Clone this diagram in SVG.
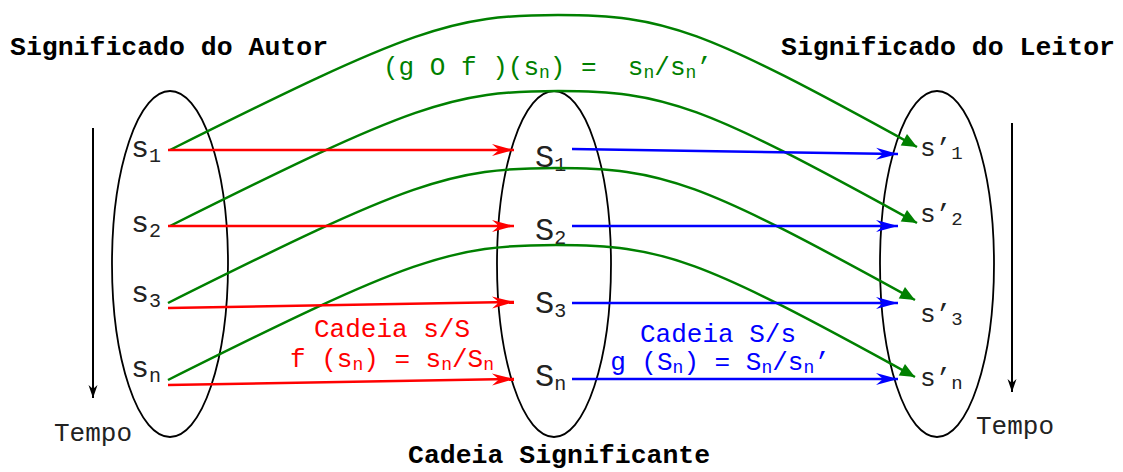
<svg xmlns="http://www.w3.org/2000/svg" width="1123" height="472" viewBox="0 0 1123 472">
<style>
text{font-family:"Liberation Mono","Courier New",monospace;}
.t{font-size:26.5px;font-weight:bold;fill:#000;}
.n{font-size:26px;}
.ell{fill:none;stroke:#000;stroke-width:1.8;}
.g{fill:none;stroke:#008000;stroke-width:2.5;marker-end:url(#ag);}
.r{fill:none;stroke:#ff0000;stroke-width:2.5;marker-end:url(#ar);}
.b{fill:none;stroke:#0000ff;stroke-width:2.5;marker-end:url(#ab);}
.k{fill:none;stroke:#000;stroke-width:2;marker-end:url(#ak);}
.ls{font-size:30px;fill:#222;}
.ms{font-size:32px;fill:#222;}
.rs{font-size:26px;fill:#222;}
</style>
<defs>
<marker id="ag" markerUnits="userSpaceOnUse" viewBox="-16 -8 17 16" markerWidth="17" markerHeight="16" refX="0" refY="0" orient="auto"><path d="M0,0 L-15,-6.5 L-15,6.5 Z" fill="#008000"/></marker>
<marker id="ar" markerUnits="userSpaceOnUse" viewBox="-23 -7 24 14" markerWidth="24" markerHeight="14" refX="0" refY="0" orient="auto"><path d="M0,0 L-22,-6 L-15,0 L-22,6 Z" fill="#ff0000"/></marker>
<marker id="ab" markerUnits="userSpaceOnUse" viewBox="-23 -7 24 14" markerWidth="24" markerHeight="14" refX="0" refY="0" orient="auto"><path d="M0,0 L-22,-6 L-15,0 L-22,6 Z" fill="#0000ff"/></marker>
<marker id="ak" markerUnits="userSpaceOnUse" viewBox="-14 -5 15 10" markerWidth="15" markerHeight="10" refX="0" refY="0" orient="auto"><path d="M0,0 L-13,-4.5 L-9,0 L-13,4.5 Z" fill="#000"/></marker>
</defs>

<g id="autor">
<ellipse class="ell" cx="170" cy="264" rx="58" ry="173"/>
<text class="t" x="10" y="55">Significado do Autor</text>
</g>
<g id="cadeia">
<ellipse class="ell" cx="554" cy="264" rx="57" ry="173"/>
<text class="t" x="408" y="463">Cadeia Significante</text>
</g>
<g id="leitor">
<ellipse class="ell" cx="937" cy="264" rx="57" ry="173"/>
<text class="t" x="781" y="55">Significado do Leitor</text>
</g>

<g id="tempo-autor">
<path class="k" d="M93,128 L93,398"/>
<text class="n" x="54" y="441" fill="#222">Tempo</text>
</g>
<g id="tempo-leitor">
<path class="k" d="M1012,123 L1012,392"/>
<text class="n" x="976" y="434" fill="#222">Tempo</text>
</g>

<g id="s1"><text class="ls" x="131" y="157">s<tspan font-size="20" dy="5">1</tspan></text></g>
<g id="s2"><text class="ls" x="131" y="232">s<tspan font-size="20" dy="5">2</tspan></text></g>
<g id="s3"><text class="ls" x="131" y="302">s<tspan font-size="20" dy="5">3</tspan></text></g>
<g id="sn"><text class="ls" x="131" y="377">s<tspan font-size="20" dy="5">n</tspan></text></g>

<g id="S1"><text class="ms" x="535" y="167">S<tspan font-size="20" dy="4">1</tspan></text></g>
<g id="S2"><text class="ms" x="535" y="240">S<tspan font-size="20" dy="4">2</tspan></text></g>
<g id="S3"><text class="ms" x="535" y="313">S<tspan font-size="20" dy="4">3</tspan></text></g>
<g id="Sn"><text class="ms" x="535" y="386">S<tspan font-size="20" dy="4">n</tspan></text></g>

<g id="sp1"><text class="rs" x="920" y="156">s’<tspan font-size="19" dy="3">1</tspan></text></g>
<g id="sp2"><text class="rs" x="920" y="222">s’<tspan font-size="19" dy="3">2</tspan></text></g>
<g id="sp3"><text class="rs" x="920" y="322">s’<tspan font-size="19" dy="3">3</tspan></text></g>
<g id="spn"><text class="rs" x="920" y="386">s’<tspan font-size="19" dy="3">n</tspan></text></g>

<g id="connectors">
<path class="g" d="M170,150 c243,-121.5 282,-135 388,-135 c107,0 143,13 359,132"/>
<path class="g" d="M170,226 c243,-121.5 282,-135 388,-135 c107,0 143,13 359,132"/>
<path class="g" d="M168,303 c243,-121.5 282,-135 388,-135 c107,0 143,13 359,132"/>
<path class="g" d="M168,380 c243,-121.5 282,-135 388,-135 c107,0 143,13 359,132"/>
<path class="r" d="M168,150 L514,150"/>
<path class="r" d="M168,226 L514,226"/>
<path class="r" d="M168,308 L514,302"/>
<path class="r" d="M168,385 L514,379"/>
<path class="b" d="M572,149 L898,154"/>
<path class="b" d="M572,226 L898,226"/>
<path class="b" d="M572,303 L898,303"/>
<path class="b" d="M572,379 L898,379"/>
</g>

<g id="labels">
<text class="n" x="383" y="75" fill="#008000" xml:space="preserve">(g O f )(s<tspan font-size="18" dy="3">n</tspan><tspan dy="-3">) =  s</tspan><tspan font-size="18" dy="3">n</tspan><tspan dy="-3">/s</tspan><tspan font-size="18" dy="3">n</tspan><tspan dy="-3">’</tspan></text>
<text class="n" x="392" y="337" fill="#ff0000" text-anchor="middle">Cadeia s/S</text>
<text class="n" x="392" y="367" fill="#ff0000" text-anchor="middle" xml:space="preserve">f (s<tspan font-size="18" dy="3">n</tspan><tspan dy="-3">) = s</tspan><tspan font-size="18" dy="3">n</tspan><tspan dy="-3">/S</tspan><tspan font-size="18" dy="3">n</tspan></text>
<text class="n" x="718" y="342" fill="#0000ff" text-anchor="middle">Cadeia S/s</text>
<text class="n" x="720" y="370" fill="#0000ff" text-anchor="middle" xml:space="preserve">g (S<tspan font-size="18" dy="3">n</tspan><tspan dy="-3">) = S</tspan><tspan font-size="18" dy="3">n</tspan><tspan dy="-3">/s</tspan><tspan font-size="18" dy="3">n</tspan><tspan dy="-3">’</tspan></text>
</g>
</svg>
